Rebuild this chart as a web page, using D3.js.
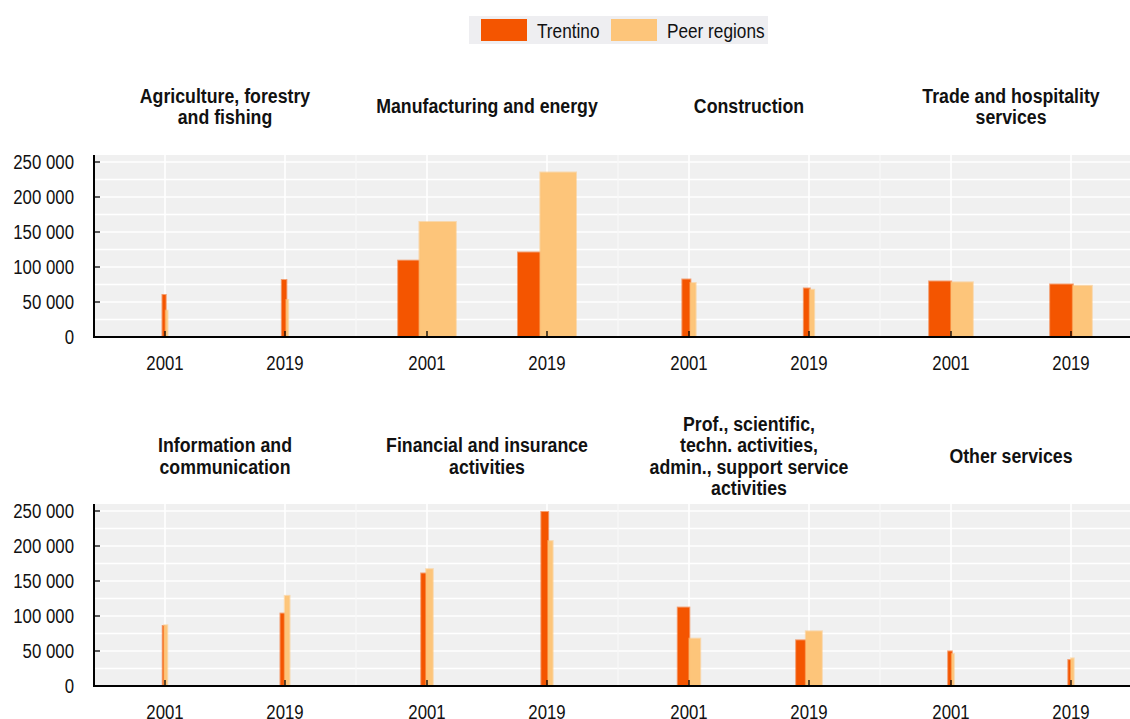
<!DOCTYPE html>
<html>
<head>
<meta charset="utf-8">
<script src="https://cdn.jsdelivr.net/npm/d3@7"></script>
<style>
  html, body { margin: 0; padding: 0; background: #fff; }
  svg { display: block; font-family: "Liberation Sans", Arial, sans-serif; }
</style>
</head>
<body>
<svg id="chart" width="1130" height="719"></svg>
<script>
// ---------------- DATA ----------------
const seriesNames = ["Trentino", "Peer regions"];
const years = ["2001", "2019"];
const sectorTitles = [
  ["Agriculture, forestry", "and fishing"],
  ["Manufacturing and energy"],
  ["Construction"],
  ["Trade and hospitality", "services"],
  ["Information and", "communication"],
  ["Financial and insurance", "activities"],
  ["Prof., scientific,", "techn. activities,", "admin., support service", "activities"],
  ["Other services"]
];
// bar heights (value per sector, [2001, 2019])
const trentinoValues = [
  [60000, 81400], [109000, 120700], [82100, 69300], [79300, 75000],
  [85700, 103400], [160700, 248600], [112000, 65200], [49400, 37000]
];
const peerValues = [
  [37600, 52900], [164300, 235000], [77100, 67400], [78100, 73100],
  [86700, 128700], [166900, 207000], [67600, 78100], [45600, 39400]
];
// bar widths: employment share (%), [2001, 2019]
const trentinoEmployment = [
  [3.2, 4.5], [21.3, 22.3], [8.0, 5.9], [22.0, 22.7],
  [1.5, 4.3], [5.0, 6.8], [11.5, 9.7], [3.7, 2.7]
];
const peerEmployment = [
  [1.8, 1.8], [36.4, 35.7], [5.3, 4.4], [21.7, 19.0],
  [3.0, 4.7], [6.6, 4.5], [10.9, 16.0], [2.0, 2.7]
];
const yTickValues = [0, 50000, 100000, 150000, 200000, 250000];
const yGridValues = d3.range(0, 250001, 25000);

// ---------------- LAYOUT ----------------
const colors = { "Trentino": "#F45500", "Peer regions": "#FDC57A" };
const svg = d3.select("#chart");
const plotLeft = 94, panelW = 262, plotH = 182;
const rowBaselines = [337, 686];
const fmt = d3.formatLocale({ decimal: ".", thousands: " ", grouping: [3], currency: ["", ""] }).format(",");
const wScale = d3.scaleLinear().domain([0, 100]).range([0, 100]);

// helper: narrow text (Arial Narrow look)
function ntext(sel, x, y, anchor, size, bold) {
  const k = bold ? 0.865 : 0.82;
  return sel.append("text")
    .attr("transform", `translate(${x},${y}) scale(${k},1)`)
    .attr("text-anchor", anchor).attr("font-size", size)
    .attr("font-weight", bold ? "bold" : "normal").attr("fill", "#111");
}

// legend
const legend = svg.append("g");
legend.append("rect").attr("x", 469).attr("y", 16).attr("width", 299).attr("height", 28).attr("fill", "#EEEEF1");
const legItems = [{ name: seriesNames[0], x: 481, tx: 537 }, { name: seriesNames[1], x: 611, tx: 667 }];
legItems.forEach(it => {
  legend.append("rect").attr("x", it.x).attr("y", 19).attr("width", 46).attr("height", 22).attr("fill", colors[it.name]);
  ntext(legend, it.tx, 30, "start", 21, false).attr("dy", "0.36em").text(it.name);
});

rowBaselines.forEach((base, r) => {
  const y = d3.scaleLinear().domain([0, 260000]).range([base, base - plotH]);
  const g = svg.append("g");
  g.append("rect").attr("x", plotLeft).attr("y", base - plotH).attr("width", 1130 - plotLeft).attr("height", plotH).attr("fill", "#F0F0F0");
  g.selectAll("line.hg").data(yGridValues.slice(1)).join("line")
    .attr("x1", plotLeft).attr("x2", 1130).attr("y1", d => y(d)).attr("y2", d => y(d))
    .attr("stroke", "#fff").attr("stroke-width", 1.4);

  for (let c = 0; c < 4; c++) {
    const si = r * 4 + c;
    const x0 = plotLeft + c * panelW;
    const x = d3.scalePoint().domain(years).range([x0, x0 + panelW]).padding(0.5917);
    if (c > 0) g.append("line").attr("x1", x0).attr("x2", x0).attr("y1", base - plotH).attr("y2", base)
      .attr("stroke", "#F8F8F8").attr("stroke-width", 1.2);
    g.selectAll(null).data(years).join("line")
      .attr("x1", d => x(d)).attr("x2", d => x(d)).attr("y1", base - plotH).attr("y2", base)
      .attr("stroke", "#fff").attr("stroke-width", 1.6);
    // title
    const lines = sectorTitles[si];
    const cy = r === 0 ? 106 : 455.5;
    const lh = 21.5;
    const t = ntext(g, x0 + panelW / 2, cy, "middle", 20.5, true);
    lines.forEach((ln, i) => {
      t.append("tspan").attr("x", 0).attr("y", (i - (lines.length - 1) / 2) * lh).attr("dy", "0.36em").text(ln);
    });
    // bars
    years.forEach((yr, k) => {
      const w1 = wScale(trentinoEmployment[si][k]);
      const w2 = wScale(peerEmployment[si][k]);
      const start = x(yr) - (w1 + w2) / 2;
      const bars = [
        { name: "Trentino", x: start, w: w1, v: trentinoValues[si][k] },
        { name: "Peer regions", x: start + w1, w: w2, v: peerValues[si][k] }
      ];
      g.selectAll(null).data(bars).join("rect")
        .attr("x", d => d.x).attr("width", d => d.w)
        .attr("y", d => y(d.v)).attr("height", d => base - y(d.v))
        .attr("fill", d => colors[d.name])
        .attr("stroke", d => colors[d.name]).attr("stroke-opacity", 0.55).attr("stroke-width", 2);
    });
    // x ticks and labels
    g.selectAll(null).data(years).join("line")
      .attr("x1", d => x(d)).attr("x2", d => x(d)).attr("y1", base).attr("y2", base - 6)
      .attr("stroke", "#000").attr("stroke-width", 1.3);
    years.forEach(yr => {
      ntext(g, x(yr), base + 33, "middle", 20.5, false).text(yr);
    });
  }
  g.append("line").attr("x1", plotLeft).attr("x2", 1130).attr("y1", base).attr("y2", base).attr("stroke", "#000").attr("stroke-width", 2);
  g.append("line").attr("x1", plotLeft).attr("x2", plotLeft).attr("y1", base - plotH).attr("y2", base + 1).attr("stroke", "#000").attr("stroke-width", 2);
  g.selectAll(null).data(yTickValues).join("line")
    .attr("x1", plotLeft).attr("x2", plotLeft + 6).attr("y1", d => y(d)).attr("y2", d => y(d))
    .attr("stroke", "#000").attr("stroke-width", 1.3);
  yTickValues.forEach(v => {
    ntext(g, plotLeft - 20, y(v), "end", 20.5, false).attr("dy", "0.36em").text(fmt(v));
  });
});
</script>
</body>
</html>
